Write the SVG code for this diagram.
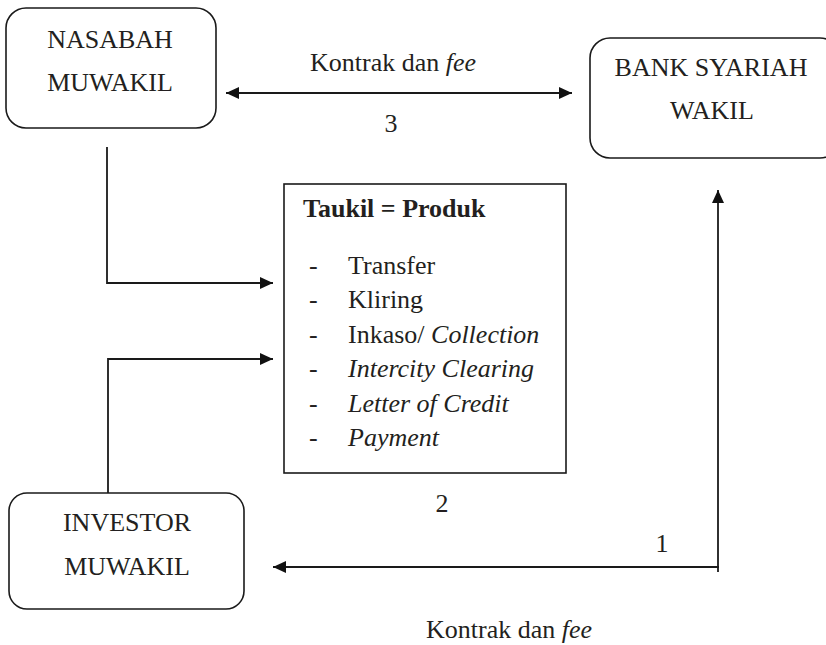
<svg xmlns="http://www.w3.org/2000/svg" width="826" height="645" viewBox="0 0 826 645">
<style>
  .box { fill: #ffffff; stroke: #1a1a1a; stroke-width: 1.6; }
  text { font-family: 'Liberation Serif', 'Times New Roman', 'DejaVu Serif', serif; font-size: 26px; fill: #231f20; }
  .c { text-anchor: middle; }
  .b { font-weight: bold; }
  .i { font-style: italic; }
  .ln { fill: none; stroke: #1a1a1a; stroke-width: 1.8; }
</style>
<defs>
  <marker id="ah" markerUnits="userSpaceOnUse" markerWidth="14" markerHeight="12" refX="13" refY="6" orient="auto-start-reverse">
    <path d="M0,0 L13,6 L0,12 z" fill="#111"/>
  </marker>
</defs>
<rect width="826" height="645" fill="#ffffff"/>

<g id="connectors">
  <line class="ln" x1="226" y1="93" x2="572" y2="93" marker-start="url(#ah)" marker-end="url(#ah)"/>
  <polyline class="ln" points="107,147 107,283 273,283" marker-end="url(#ah)"/>
  <polyline class="ln" points="108,493 108,359 273,359" marker-end="url(#ah)"/>
  <line class="ln" x1="719" y1="567" x2="273" y2="567" marker-end="url(#ah)"/>
  <line class="ln" x1="718" y1="572" x2="718" y2="190" marker-end="url(#ah)"/>
</g>

<g id="label-3-top" font-family="Liberation Serif, serif">
  <text class="c" x="393" y="71">Kontrak dan <tspan class="i">fee</tspan></text>
  <text class="c" x="391" y="132">3</text>
</g>

<g id="nasabah">
  <rect class="box" x="6" y="8" width="210" height="120" rx="20"/>
  <text class="c" x="110" y="48">NASABAH</text>
  <text class="c" x="110" y="91">MUWAKIL</text>
</g>

<g id="bank">
  <rect class="box" x="590" y="38" width="250" height="120" rx="20"/>
  <text class="c" x="711" y="76">BANK SYARIAH</text>
  <text class="c" x="712" y="119">WAKIL</text>
</g>

<g id="taukil">
  <rect class="box" x="284" y="184" width="282" height="289"/>
  <text class="b" x="303" y="217">Taukil = Produk</text>
  <text x="309" y="274">-</text><text x="348" y="274">Transfer</text>
  <text x="309" y="308">-</text><text x="348" y="308">Kliring</text>
  <text x="309" y="343">-</text><text x="348" y="343">Inkaso/ <tspan class="i">Collection</tspan></text>
  <text x="309" y="377">-</text><text class="i" x="348" y="377">Intercity Clearing</text>
  <text x="309" y="412">-</text><text class="i" x="348" y="412">Letter of Credit</text>
  <text x="309" y="446">-</text><text class="i" x="348" y="446">Payment</text>
</g>

<g id="label-2">
  <text class="c" x="442" y="512">2</text>
</g>

<g id="investor">
  <rect class="box" x="9" y="493" width="235" height="116" rx="18"/>
  <text class="c" x="127" y="531">INVESTOR</text>
  <text class="c" x="127" y="575">MUWAKIL</text>
</g>

<g id="label-1-bottom">
  <text class="c" x="662" y="552">1</text>
  <text class="c" x="509" y="638">Kontrak dan <tspan class="i">fee</tspan></text>
</g>
</svg>
